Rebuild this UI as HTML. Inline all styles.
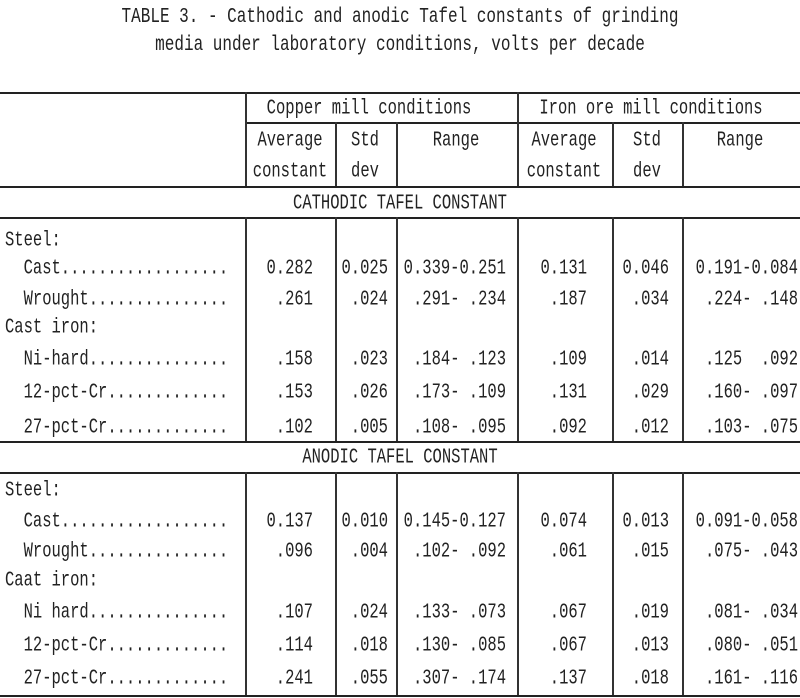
<!DOCTYPE html>
<html><head><meta charset="utf-8"><style>
body{margin:0;width:800px;height:698px;background:#fff;position:relative;overflow:hidden;font-family:"Liberation Mono","DejaVu Sans Mono",monospace;color:#222}
.t{position:absolute;white-space:pre;font-size:15.5px;line-height:20px;transform:scaleY(1.4);transform-origin:center}
.h{position:absolute;background:#222;height:2px}
.v{position:absolute;background:#333;width:1.5px}
.title{position:absolute;left:0;width:800px;text-align:center;font-size:16px;white-space:pre;transform:scaleY(1.3)}
</style></head><body>
<div class="title" style="top:8px">TABLE 3. - Cathodic and anodic Tafel constants of grinding</div>
<div class="title" style="top:36px">media under laboratory conditions, volts per decade</div>
<div id="tbl"></div>
<script>
var rowLabels=["Steel:","  Cast..................","  Wrought...............","Cast iron:","  Ni-hard...............","  12-pct-Cr.............","  27-pct-Cr............."];
var rowLabels2=["Steel:","  Cast..................","  Wrought...............","Caat iron:","  Ni hard...............","  12-pct-Cr.............","  27-pct-Cr............."];
var cathodic=[null,["0.282","0.025","0.339-0.251","0.131","0.046","0.191-0.084"],[".261",".024",".291- .234",".187",".034",".224- .148"],null,[".158",".023",".184- .123",".109",".014",".125  .092"],[".153",".026",".173- .109",".131",".029",".160- .097"],[".102",".005",".108- .095",".092",".012",".103- .075"]];
var anodic=[null,["0.137","0.010","0.145-0.127","0.074","0.013","0.091-0.058"],[".096",".004",".102- .092",".061",".015",".075- .043"],null,[".107",".024",".133- .073",".067",".019",".081- .034"],[".114",".018",".130- .085",".067",".013",".080- .051"],[".241",".055",".307- .174",".137",".018",".161- .116"]];
var root=document.getElementById('tbl');
function txt(s,x,cy,align,w,name){
  var d=document.createElement('div');
  d.className='t';
  d.textContent=s;
  d.style.top=(cy-10)+'px';
  if(align==='r'){d.style.left=(x-w)+'px';d.style.width=w+'px';d.style.textAlign='right';}
  else if(align==='c'){d.style.left=(x-w/2)+'px';d.style.width=w+'px';d.style.textAlign='center';}
  else d.style.left=x+'px';
  
  
  root.appendChild(d);
}
function hl(y,x1,x2){var d=document.createElement('div');d.className='h';d.style.top=y+'px';d.style.left=x1+'px';d.style.width=(x2-x1)+'px';
  
  
  root.appendChild(d);}
function vl(x,y1,y2){var d=document.createElement('div');d.className='v';d.style.left=x+'px';d.style.top=y1+'px';d.style.height=(y2-y1)+'px';
  
  
  root.appendChild(d);}
hl(92,0,800);hl(122,245,800);hl(186,0,800);hl(217,0,800);hl(441,0,800);hl(472,0,800);hl(695,0,800);
[245,517].forEach(function(x){vl(x,92,186);});
[335,396,612,682].forEach(function(x){vl(x,122,186);});
[245,335,396,517,612,682].forEach(function(x){vl(x,217,441);vl(x,472,695);});
txt("Copper mill conditions",369,108,'c',260,'copper-mill-header');
txt("Iron ore mill conditions",651,108,'c',280,'iron-ore-mill-header');
var sub=[["Average","constant",290],["Std","dev",365],["Range","",456],["Average","constant",564],["Std","dev",647],["Range","",740]];
sub.forEach(function(s){txt(s[0],s[2],140,'c',110,'column-header');if(s[1])txt(s[1],s[2],171,'c',110,'column-header');});
txt("CATHODIC TAFEL CONSTANT",400,203,'c',400,'cathodic-section-label');
txt("ANODIC TAFEL CONSTANT",400,457,'c',400,'anodic-section-label');
var rights=[313,388,506,587,669,798];
var yc=[240,268,299,327,359,392,427];
var ya=[490,521,551,580,612,645,678];
function section(labels,data,ys){
  labels.forEach(function(l,i){
    txt(l,5,ys[i],'l',0,'row-label');
    if(data[i])data[i].forEach(function(v,j){txt(v,rights[j],ys[i],'r',120,'cell-value');});
  });
}
section(rowLabels,cathodic,yc);
section(rowLabels2,anodic,ya);
</script>
</body></html>
